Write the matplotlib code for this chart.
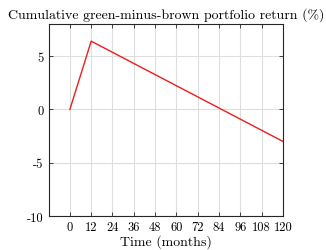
import matplotlib

matplotlib.use("Agg")
import matplotlib.pyplot as plt

# cumulative green-minus-brown return
months = [0, 12, 120]
cum_return = [0.0, 6.4, -3.0]

x_ticks = [0, 12, 24, 36, 48, 60, 72, 84, 96, 108, 120]
y_ticks = [-10, -5, 0, 5]
y_labels = ["-10", "-5", "0", "5"]

plt.rcParams["font.family"] = "serif"
plt.rcParams["font.serif"] = ["cmr10", "DejaVu Serif"]
plt.rcParams["axes.unicode_minus"] = False

fig = plt.figure(figsize=(3.26, 2.51), dpi=100)
ax = fig.add_axes([0.149, 0.135, 0.719, 0.765])
ax.plot(months, cum_return, color="#ee1c1c", lw=1.0)

ax.set_xlim(-12, 120)
ax.set_ylim(-10, 8)
ax.set_xticks(x_ticks)
ax.set_xticklabels([str(t) for t in x_ticks])
ax.set_yticks(y_ticks)
ax.set_yticklabels(y_labels)
ax.tick_params(direction="in", length=3, width=0.6, labelsize=9,
               top=True, right=True, colors="#262626", labelcolor="black")
ax.grid(color="#dedede", lw=0.8)
ax.set_axisbelow(True)
for s in ax.spines.values():
    s.set_linewidth(0.8)
    s.set_color("#262626")

ax.set_xlabel("Time (months)", fontsize=10, labelpad=1)
ax.set_title("Cumulative green-minus-brown portfolio return (%)", fontsize=10, pad=5)

fig.savefig("out.png", dpi=100)
plt.close(fig)
